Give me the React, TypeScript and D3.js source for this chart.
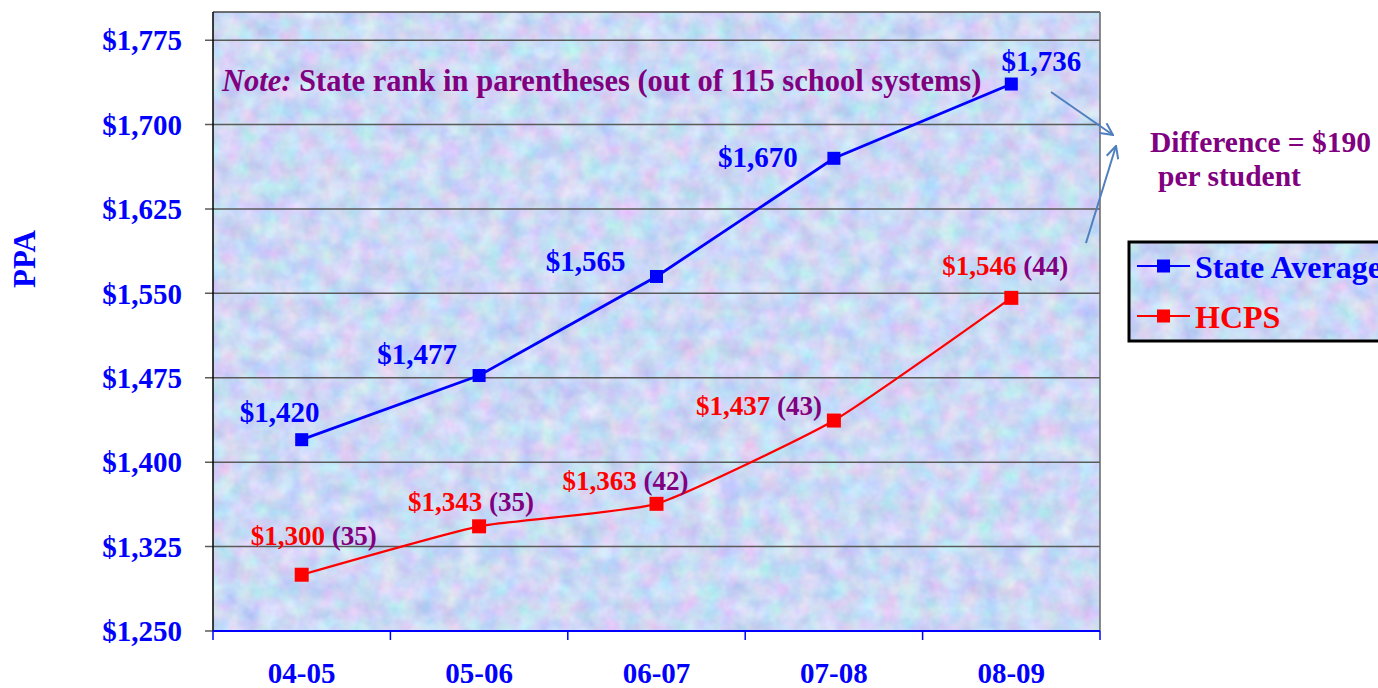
import React from "react";
import * as d3 from "d3";

const categories = ["04-05", "05-06", "06-07", "07-08", "08-09"];
const stateAverage = [1420, 1477, 1565, 1670, 1736];
const hcps = [1300, 1343, 1363, 1437, 1546];
const hcpsRank = [35, 35, 42, 43, 44];
const yTicks = [1250, 1325, 1400, 1475, 1550, 1625, 1700, 1775];
const seriesNames = ["State Average", "HCPS"];

// label placement offsets (relative to point)
const blueLabelOffsets: [number, number][] = [[-22, -18], [-62, -12], [-71, -5], [-76, 9], [30, -13]];
const redLabelOffsets: [number, number][] = [[-51, -30], [-71, -15], [-94, -14], [-138, -6], [-69, -23]];

const W = 1378, H = 688;
const L = 213, R = 1100, T = 12, B = 631;
const FONT = "'Liberation Serif', 'Times New Roman', serif";
const BLUE = "#0000ff", RED = "#ff0000", PURPLE = "#800080", ARROW = "#4f7fbf";

const fmt = (v: number) => "$" + d3.format(",")(v);

export default function App() {
  const x = d3.scaleBand<string>().domain(categories).range([L, R]).padding(0);
  const y = d3.scaleLinear().domain([1250, 1800]).range([B, T]);
  const cx = (c: string) => (x(c) as number) + x.bandwidth() / 2;

  const blueLine = d3.line<number>().x((_, i) => cx(categories[i])).y((d) => y(d)).curve(d3.curveLinear);
  const redLine = d3.line<number>().x((_, i) => cx(categories[i])).y((d) => y(d)).curve(d3.curveCardinal.tension(0.55));

  const boundaries = categories.map((c) => x(c) as number).concat([R]);

  return (
    <svg width={W} height={H} style={{ position: "absolute", left: 0, top: 0, display: "block" }} fontFamily={FONT}>
      <defs>
        <filter id="tex" x="0" y="0" width="100%" height="100%" colorInterpolationFilters="sRGB">
          <feTurbulence type="fractalNoise" baseFrequency="0.05" numOctaves={3} seed={4} result="n" />
          <feColorMatrix in="n" type="matrix"
            values="0.32 0 0 0 0.64  0 0.26 0 0 0.72  0 0 0.12 0 0.9  0 0 0 0 1" />
        </filter>
        <marker id="ah" viewBox="0 0 14 14" refX="13" refY="7" markerWidth="14" markerHeight="14" markerUnits="userSpaceOnUse" orient="auto">
          <path d="M1,1 L13,7 L1,13" fill="none" stroke={ARROW} strokeWidth={2} />
        </marker>
      </defs>

      {/* plot background */}
      <rect x={L} y={T} width={R - L} height={B - T} fill="#cdd9f4" />
      <rect x={L} y={T} width={R - L} height={B - T} filter="url(#tex)" />

      {/* gridlines and y ticks */}
      {yTicks.map((t) => (
        <g key={t}>
          <line x1={205} x2={R} y1={y(t)} y2={y(t)} stroke="#5a5a5a" strokeWidth={1.5} />
          <text x={182} y={y(t)} dy="0.35em" textAnchor="end" fill={BLUE} fontWeight="bold" fontSize={29}>
            {fmt(t)}
          </text>
        </g>
      ))}

      {/* borders */}
      <line x1={L} x2={R} y1={T} y2={T} stroke="#444" strokeWidth={1.5} />
      <line x1={R} x2={R} y1={T} y2={B} stroke="#666" strokeWidth={1.5} />
      <line x1={L} x2={L} y1={T} y2={B} stroke="#000" strokeWidth={1.5} />

      {/* x axis */}
      <line x1={L} x2={R} y1={B} y2={B} stroke={BLUE} strokeWidth={2} />
      {boundaries.map((b, i) => (
        <line key={i} x1={b} x2={b} y1={B} y2={640} stroke={BLUE} strokeWidth={1.5} />
      ))}
      {categories.map((c) => (
        <text key={c} x={cx(c)} y={683} textAnchor="middle" fill={BLUE} fontWeight="bold" fontSize={29}>
          {c}
        </text>
      ))}

      {/* y title */}
      <text transform={`translate(35,259) rotate(-90)`} textAnchor="middle" fill={BLUE} fontWeight="bold" fontSize={31}>
        PPA
      </text>

      {/* note */}
      <text x={222} y={91} fill={PURPLE} fontWeight="bold" fontSize={30.5}>
        <tspan fontStyle="italic">Note:</tspan>
        <tspan> State rank in parentheses (out of 115 school systems)</tspan>
      </text>

      {/* lines */}
      <path d={blueLine(stateAverage) as string} fill="none" stroke={BLUE} strokeWidth={2.8} />
      <path d={redLine(hcps) as string} fill="none" stroke={RED} strokeWidth={2.2} />
      {stateAverage.map((v, i) => (
        <rect key={"b" + i} x={cx(categories[i]) - 6.5} y={y(v) - 6.5} width={13} height={13} fill={BLUE} />
      ))}
      {hcps.map((v, i) => (
        <rect key={"r" + i} x={cx(categories[i]) - 7} y={y(v) - 7} width={14} height={14} fill={RED} />
      ))}

      {/* data labels */}
      {stateAverage.map((v, i) => (
        <text key={"bl" + i} x={cx(categories[i]) + blueLabelOffsets[i][0]} y={y(v) + blueLabelOffsets[i][1]}
          textAnchor="middle" fill={BLUE} fontWeight="bold" fontSize={29}>
          {fmt(v)}
        </text>
      ))}
      {hcps.map((v, i) => (
        <text key={"rl" + i} x={cx(categories[i]) + redLabelOffsets[i][0]} y={y(v) + redLabelOffsets[i][1]}
          fill={RED} fontWeight="bold" fontSize={27}>
          <tspan>{fmt(v)}</tspan>
          <tspan fill={PURPLE}> ({hcpsRank[i]})</tspan>
        </text>
      ))}

      {/* arrows */}
      <line x1={1051} y1={92} x2={1113} y2={135} stroke={ARROW} strokeWidth={2} markerEnd="url(#ah)" />
      <line x1={1086} y1={243} x2={1116} y2={146} stroke={ARROW} strokeWidth={2} markerEnd="url(#ah)" />

      {/* difference annotation */}
      <text x={1150} y={152} fill={PURPLE} fontWeight="bold" fontSize={29.5}>Difference = $190</text>
      <text x={1158} y={186} fill={PURPLE} fontWeight="bold" fontSize={29.5}>per student</text>

      {/* legend */}
      <g>
        <rect x={1129} y={242} width={260} height={99} fill="#cdd9f4" />
        <rect x={1129} y={242} width={260} height={99} filter="url(#tex)" />
        <rect x={1129} y={242} width={260} height={99} fill="none" stroke="#000" strokeWidth={3} />
        {seriesNames.map((s, i) => {
          const ly = 266 + i * 50;
          const col = i === 0 ? BLUE : RED;
          return (
            <g key={s}>
              <line x1={1137} x2={1190} y1={ly} y2={ly} stroke={col} strokeWidth={2} />
              <rect x={1157} y={ly - 6.5} width={13} height={13} fill={col} />
              <text x={1195} y={ly + 12} fill={col} fontWeight="bold" fontSize={32}>{s}</text>
            </g>
          );
        })}
      </g>
    </svg>
  );
}
